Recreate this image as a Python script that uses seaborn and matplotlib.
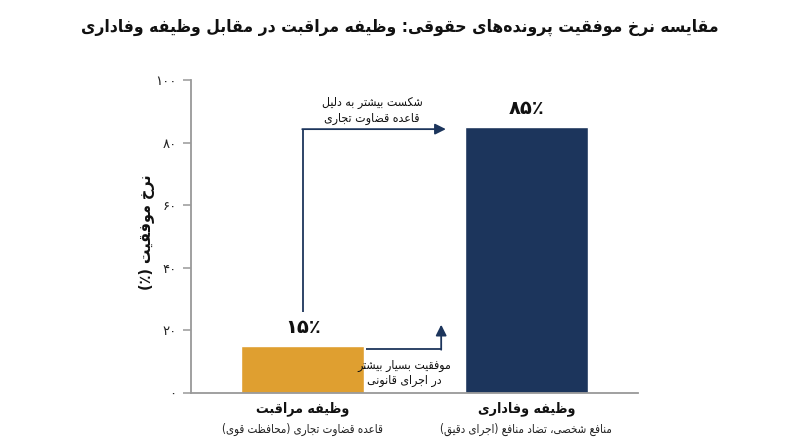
import matplotlib
matplotlib.use("Agg")
import matplotlib.pyplot as plt
import seaborn as sns
import pandas as pd

# ---------------- data ----------------
categories = ["وظیفه مراقبت", "وظیفه وفاداری"]
subtitles = ["قاعده قضاوت تجاری (محافظت قوی)", "منافع شخصی، تضاد منافع (اجرای دقیق)"]
success_rate = [15, 85]
bar_colors = ["#DF9F30", "#1C355C"]
y_ticks = [0, 20, 40, 60, 80, 100]
title_text = "مقایسه نرخ موفقیت پرونده‌های حقوقی: وظیفه مراقبت در مقابل وظیفه وفاداری"
ylabel_text = "نرخ موفقیت (٪)"
note_fail = "شکست بیشتر به دلیل\nقاعده قضاوت تجاری"
note_success = "موفقیت بسیار بیشتر\nدر اجرای قانونی"

# ------------- minimal Persian shaping (no external libs) -------------
F = {
    '\u0627': ('\uFE8D', '\uFE8E', None, None),
    '\u0622': ('\uFE81', '\uFE82', None, None),
    '\u0628': ('\uFE8F', '\uFE90', '\uFE91', '\uFE92'),
    '\u067E': ('\uFB56', '\uFB57', '\uFB58', '\uFB59'),
    '\u062A': ('\uFE95', '\uFE96', '\uFE97', '\uFE98'),
    '\u062B': ('\uFE99', '\uFE9A', '\uFE9B', '\uFE9C'),
    '\u062C': ('\uFE9D', '\uFE9E', '\uFE9F', '\uFEA0'),
    '\u0686': ('\uFB7A', '\uFB7B', '\uFB7C', '\uFB7D'),
    '\u062D': ('\uFEA1', '\uFEA2', '\uFEA3', '\uFEA4'),
    '\u062E': ('\uFEA5', '\uFEA6', '\uFEA7', '\uFEA8'),
    '\u062F': ('\uFEA9', '\uFEAA', None, None),
    '\u0630': ('\uFEAB', '\uFEAC', None, None),
    '\u0631': ('\uFEAD', '\uFEAE', None, None),
    '\u0632': ('\uFEAF', '\uFEB0', None, None),
    '\u0698': ('\uFB8A', '\uFB8B', None, None),
    '\u0633': ('\uFEB1', '\uFEB2', '\uFEB3', '\uFEB4'),
    '\u0634': ('\uFEB5', '\uFEB6', '\uFEB7', '\uFEB8'),
    '\u0635': ('\uFEB9', '\uFEBA', '\uFEBB', '\uFEBC'),
    '\u0636': ('\uFEBD', '\uFEBE', '\uFEBF', '\uFEC0'),
    '\u0637': ('\uFEC1', '\uFEC2', '\uFEC3', '\uFEC4'),
    '\u0638': ('\uFEC5', '\uFEC6', '\uFEC7', '\uFEC8'),
    '\u0639': ('\uFEC9', '\uFECA', '\uFECB', '\uFECC'),
    '\u063A': ('\uFECD', '\uFECE', '\uFECF', '\uFED0'),
    '\u0641': ('\uFED1', '\uFED2', '\uFED3', '\uFED4'),
    '\u0642': ('\uFED5', '\uFED6', '\uFED7', '\uFED8'),
    '\u06A9': ('\uFB8E', '\uFB8F', '\uFB90', '\uFB91'),
    '\u06AF': ('\uFB92', '\uFB93', '\uFB94', '\uFB95'),
    '\u0644': ('\uFEDD', '\uFEDE', '\uFEDF', '\uFEE0'),
    '\u0645': ('\uFEE1', '\uFEE2', '\uFEE3', '\uFEE4'),
    '\u0646': ('\uFEE5', '\uFEE6', '\uFEE7', '\uFEE8'),
    '\u0648': ('\uFEED', '\uFEEE', None, None),
    '\u0647': ('\uFEE9', '\uFEEA', '\uFEEB', '\uFEEC'),
    '\u06CC': ('\uFBFC', '\uFBFD', '\uFBFE', '\uFBFF'),
    '\u0626': ('\uFE89', '\uFE8A', '\uFE8B', '\uFE8C'),
}


def _shape_line(line):
    chars = list(line)
    n = len(chars)
    out = []
    i = 0
    while i < n:
        c = chars[i]
        if c not in F:
            out.append(c)
            i += 1
            continue
        prev = chars[i - 1] if i > 0 else None
        nxt = chars[i + 1] if i + 1 < n else None
        cp = prev in F and F[prev][2] is not None
        if c == '\u0644' and nxt == '\u0627':
            out.append('\uFEFC' if cp else '\uFEFB')
            i += 2
            continue
        cn = nxt in F and F[c][2] is not None
        iso, fin, ini, med = F[c]
        if cp and cn:
            out.append(med)
        elif cp:
            out.append(fin)
        elif cn:
            out.append(ini)
        else:
            out.append(iso)
        i += 1
    s = ''.join(out).replace('\u200c', '')
    s = s[::-1].translate(str.maketrans('()', ')('))
    return s


def fa(text):
    return '\n'.join(_shape_line(l) for l in text.split('\n'))


PD = str.maketrans('0123456789', '۰۱۲۳۴۵۶۷۸۹')


def fa_num(v):
    return str(v).translate(PD)


# ---------------- plot ----------------
sns.set_theme(style="white")
plt.rcParams['font.family'] = ['DejaVu Sans']
ST = 'condensed'

fig = plt.figure(figsize=(8, 4.47), dpi=100)
ax = fig.add_axes([0.239, 0.121, 0.5585, 0.700])

df = pd.DataFrame({"cat": [fa(c) for c in categories], "val": success_rate})
sns.barplot(data=df, x="cat", y="val", hue="cat", palette=bar_colors,
            width=0.55, legend=False, ax=ax, saturation=1)

ax.set_xlim(-0.5, 1.5)
ax.set_ylim(0, 100)
ax.set_yticks(y_ticks)
ax.set_yticklabels([fa_num(t) for t in y_ticks], fontsize=9.5, color="#222222")
ax.set_xlabel("")
ax.set_xticks(range(len(categories)))
ax.set_xticklabels([fa(c) for c in categories], fontsize=10.2, fontweight="bold",
                   fontstretch=ST, color="#111111")
ax.tick_params(axis="x", length=0, pad=6)
ax.tick_params(axis="y", length=6, width=1.1, color="#999999", left=True, pad=4.5)
ax.set_ylabel(fa(ylabel_text), fontsize=11.5, fontweight="bold", fontstretch=ST,
              color="#111111")
ax.yaxis.set_label_coords(-0.082, 0.515)

for s in ["top", "right"]:
    ax.spines[s].set_visible(False)
for s in ["left", "bottom"]:
    ax.spines[s].set_color("#999999")
    ax.spines[s].set_linewidth(1.3)

# sub-labels under categories
for i, sub in enumerate(subtitles):
    ax.text(i, -0.118, fa(sub), transform=ax.get_xaxis_transform(), ha="center", va="center",
            fontsize=8.3, fontstretch=ST, color="#222222")

# value labels
for i, v in enumerate(success_rate):
    ax.text(i, v + 3, fa_num(v) + '٪', ha="center", va="bottom", fontsize=14,
            fontweight="bold", color="#111111")

arrow_c = "#1C355C"
# arrow 1: from left bar up and across to right bar
ax.plot([0, 0], [26, 84.3], color=arrow_c, lw=1.3, solid_capstyle="butt")
ax.annotate("", xy=(0.64, 84.3), xytext=(-0.003, 84.3),
            arrowprops=dict(arrowstyle="-|>", color=arrow_c, lw=1.3, mutation_scale=16,
                            shrinkA=0, shrinkB=0))
ax.text(0.31, 90.3, fa(note_fail), ha="center", va="center", fontsize=8.8,
        fontstretch=ST, color="#111111", linespacing=1.25)

# arrow 2: from left bar right edge, across and up
ax.plot([0.283, 0.619], [14, 14], color=arrow_c, lw=1.3, solid_capstyle="butt")
ax.annotate("", xy=(0.619, 21.8), xytext=(0.619, 13.8),
            arrowprops=dict(arrowstyle="-|>", color=arrow_c, lw=1.3, mutation_scale=16,
                            shrinkA=0, shrinkB=0))
ax.text(0.453, 6.4, fa(note_success), ha="center", va="center", fontsize=8.8,
        fontstretch=ST, color="#111111", linespacing=1.25)

fig.text(0.5, 0.94, fa(title_text), ha="center", va="center", fontsize=12.5,
         fontweight="bold", fontstretch=ST, color="#111111")

fig.savefig("out.png", dpi=100, facecolor="white")
